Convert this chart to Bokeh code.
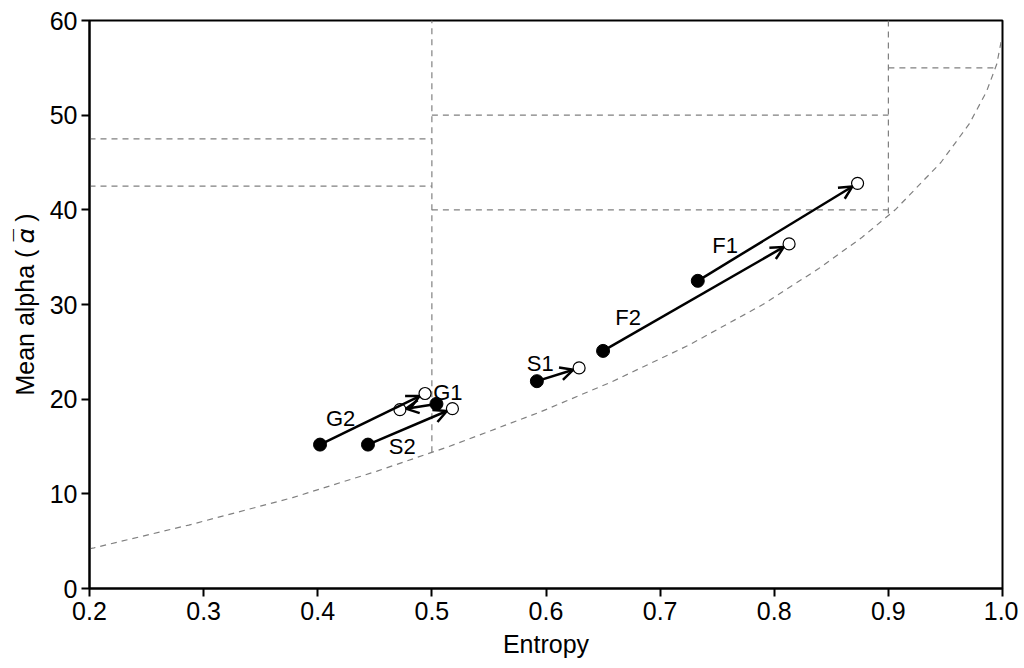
import math
from bokeh.plotting import figure
from bokeh.models import (ColumnDataSource, Arrow, OpenHead, Range1d, FixedTicker,
                          NumeralTickFormatter, LabelSet)
from bokeh.embed import file_html
from bokeh.resources import INLINE
from bokeh.core.properties import value

# ---- data ----
names = ["F1", "F2", "S1", "G1", "G2", "S2"]
start_entropy = [0.733, 0.650, 0.592, 0.504, 0.402, 0.444]
start_alpha = [32.5, 25.1, 21.9, 19.5, 15.2, 15.2]
end_entropy = [0.873, 0.813, 0.629, 0.472, 0.494, 0.518]
end_alpha = [42.8, 36.4, 23.3, 18.9, 20.6, 19.0]
label_entropy = [0.757, 0.672, 0.595, 0.514, 0.420, 0.474]
label_alpha = [36.2, 28.6, 23.8, 20.7, 18.0, 15.0]

# boundary curve
curve_entropy = [0.200, 0.204, 0.287, 0.378, 0.452, 0.515, 0.594, 0.657, 0.725,
                 0.790, 0.839, 0.877, 0.906, 0.946, 0.971, 0.986, 0.995, 0.999]
curve_alpha = [4.2, 4.3, 6.7, 9.6, 12.4, 15.0, 18.6, 21.8, 25.7,
               30.0, 33.8, 37.1, 40.0, 45.0, 49.1, 52.5, 55.4, 57.9]

# zone boundaries
v_lines_x = [0.5, 0.9]
v_lines_y0 = [14.4, 39.6]
v_lines_y1 = [60, 60]
h_lines_y = [47.5, 42.5, 50, 40, 55]
h_lines_x0 = [0.2, 0.2, 0.5, 0.5, 0.9]
h_lines_x1 = [0.5, 0.5, 0.9, 0.9, 0.995]

x_ticks = [0.2, 0.3, 0.4, 0.5, 0.6, 0.7, 0.8, 0.9, 1.0]
y_ticks = [0, 10, 20, 30, 40, 50, 60]

FONT = "Liberation Sans"
W, H = 1018, 660
ML, MR, MT, MB = 89, 16, 20, 72

p = figure(width=W, height=H, output_backend="svg", toolbar_location=None,
           x_range=Range1d(0.2, 1.0), y_range=Range1d(0, 60),
           min_border_left=ML, min_border_right=MR, min_border_top=MT, min_border_bottom=MB)
p.grid.visible = False
p.outline_line_color = "black"
p.outline_line_width = 2
p.background_fill_color = "white"
p.border_fill_color = "white"

for ax in (p.xaxis[0], p.yaxis[0]):
    ax.axis_line_width = 2
    ax.major_tick_line_width = 2
    ax.major_tick_out = 8
    ax.major_tick_in = 0
    ax.minor_tick_line_color = None
    ax.major_label_text_font = FONT
    ax.major_label_text_font_size = "25px"
    ax.major_label_text_color = "black"
    ax.axis_label_text_font = FONT
    ax.axis_label_text_font_size = "25px"
    ax.axis_label_text_font_style = "normal"
    ax.axis_label_text_color = "black"

p.xaxis.ticker = FixedTicker(ticks=x_ticks)
p.yaxis.ticker = FixedTicker(ticks=y_ticks)
p.xaxis.formatter = NumeralTickFormatter(format="0.0")
p.xaxis.major_label_standoff = 5
p.yaxis.major_label_standoff = 4
p.xaxis.axis_label = "Entropy"
p.yaxis.axis_label = "Mean alpha ( \U0001D6FC\u0305 )"
p.xaxis.axis_label_standoff = 7
p.yaxis.axis_label_standoff = 8

dash_color = "#808080"
p.line(curve_entropy, curve_alpha, line_color=dash_color, line_width=1.2, line_dash="6 5")
p.segment(x0=v_lines_x, y0=v_lines_y0, x1=v_lines_x, y1=v_lines_y1,
          line_color=dash_color, line_width=1.2, line_dash="6 5")
p.segment(x0=h_lines_x0, y0=h_lines_y, x1=h_lines_x1, y1=h_lines_y,
          line_color=dash_color, line_width=1.2, line_dash="6 5")

# shorten arrows so the tip stops at the open circle edge
fw = W - ML - MR
fh = H - MT - MB
sx = fw / 0.8
sy = fh / 60.0
shrink = 6.0
ax_end, ay_end = [], []
for x0, y0, x1, y1 in zip(start_entropy, start_alpha, end_entropy, end_alpha):
    dx = (x1 - x0) * sx
    dy = (y1 - y0) * sy
    L = math.hypot(dx, dy)
    f = (L - shrink) / L
    ax_end.append(x0 + (x1 - x0) * f)
    ay_end.append(y0 + (y1 - y0) * f)

src = ColumnDataSource(dict(x0=start_entropy, y0=start_alpha, x1=ax_end, y1=ay_end))
p.add_layout(Arrow(end=OpenHead(size=13, line_width=2.5, line_color="black"),
                   x_start="x0", y_start="y0", x_end="x1", y_end="y1",
                   line_width=2.5, line_color="black", source=src))

p.scatter(start_entropy, start_alpha, size=13, fill_color="black", line_color="black")
p.scatter(end_entropy, end_alpha, size=12, fill_color="white", line_color="black", line_width=1.2)

lsrc = ColumnDataSource(dict(x=label_entropy, y=label_alpha, t=names))
p.add_layout(LabelSet(x="x", y="y", text="t", source=lsrc, text_align="center",
                      text_baseline="middle", text_font=value(FONT),
                      text_font_size="22px", text_color="black"))

open("out.html", "w").write(file_html(p, INLINE))
